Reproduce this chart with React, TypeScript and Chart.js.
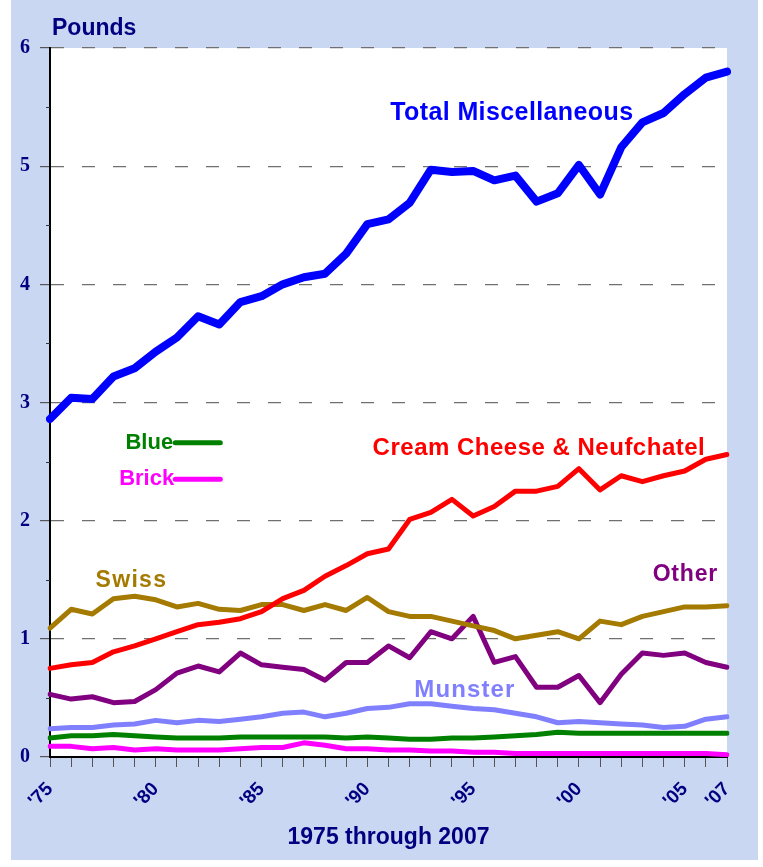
import React, { useEffect, useRef } from 'react';
import { Chart, registerables } from 'chart.js';

Chart.register(...registerables);

const years = ['1975','1976','1977','1978','1979','1980','1981','1982','1983','1984','1985','1986','1987','1988','1989','1990','1991','1992','1993','1994','1995','1996','1997','1998','1999','2000','2001','2002','2003','2004','2005','2006','2007'];
const shownYears = ['1975','1980','1985','1990','1995','2000','2005','2007'];
const xTickLabels = ["'75","'80","'85","'90","'95","'00","'05","'07"];
const yTickValues = [0, 1, 2, 3, 4, 5, 6];

const totalMisc = [2.86,3.04,3.03,3.22,3.29,3.43,3.55,3.73,3.66,3.85,3.90,4.00,4.06,4.09,4.26,4.51,4.55,4.69,4.97,4.95,4.96,4.88,4.92,4.70,4.77,5.01,4.76,5.16,5.37,5.45,5.61,5.75,5.80];
const creamCheese = [0.75,0.78,0.80,0.89,0.94,1.00,1.06,1.12,1.14,1.17,1.23,1.34,1.41,1.53,1.62,1.72,1.76,2.01,2.07,2.18,2.04,2.12,2.25,2.25,2.29,2.44,2.26,2.38,2.33,2.38,2.42,2.52,2.56];
const swiss = [1.09,1.25,1.21,1.34,1.36,1.33,1.27,1.30,1.25,1.24,1.29,1.29,1.24,1.29,1.24,1.35,1.23,1.19,1.19,1.15,1.11,1.07,1.00,1.03,1.06,1.00,1.15,1.12,1.19,1.23,1.27,1.27,1.28];
const other = [0.53,0.49,0.51,0.46,0.47,0.57,0.71,0.77,0.72,0.88,0.78,0.76,0.74,0.65,0.80,0.80,0.94,0.84,1.06,1.00,1.19,0.80,0.85,0.59,0.59,0.69,0.46,0.70,0.88,0.86,0.88,0.80,0.76];
const munster = [0.24,0.25,0.25,0.27,0.28,0.31,0.29,0.31,0.30,0.32,0.34,0.37,0.38,0.34,0.37,0.41,0.42,0.45,0.45,0.43,0.41,0.40,0.37,0.34,0.29,0.30,0.29,0.28,0.27,0.25,0.26,0.32,0.34];
const blue = [0.16,0.18,0.18,0.19,0.18,0.17,0.16,0.16,0.16,0.17,0.17,0.17,0.17,0.17,0.16,0.17,0.16,0.15,0.15,0.16,0.16,0.17,0.18,0.19,0.21,0.20,0.20,0.20,0.20,0.20,0.20,0.20,0.20];
const brick = [0.09,0.09,0.07,0.08,0.06,0.07,0.06,0.06,0.06,0.07,0.08,0.08,0.12,0.10,0.07,0.07,0.06,0.06,0.05,0.05,0.04,0.04,0.03,0.03,0.03,0.03,0.03,0.03,0.03,0.03,0.03,0.03,0.02];

const seriesNames = ['Total Miscellaneous', 'Cream Cheese & Neufchatel', 'Swiss', 'Other', 'Munster', 'Blue', 'Brick'];
const seriesColors = ['#0000FF', '#FF0000', '#A47A00', '#800080', '#8080FF', '#008000', '#FF00FF'];
const seriesWidths = [8, 5, 5, 5, 5, 5, 5];
const seriesData = [totalMisc, creamCheese, swiss, other, munster, blue, brick];

// label anchor positions in data units (x = category index, y = pounds)
const labelX = [21.83, 23.11, 3.85, 30.03, 19.61, 5.82, 5.87];
const labelY = [5.45, 2.61, 1.49, 1.54, 0.56, 2.66, 2.35];
const labelAlign: CanvasTextAlign[] = ['center', 'center', 'center', 'center', 'center', 'right', 'right'];
const labelSize = [25, 24, 23, 23, 24, 22, 22];
const labelSpacing = [0.4, 0.5, 1.3, 0.8, 1.1, 0, 0];
// short legend strokes for Blue and Brick (x from, x to in category index)
const legendStrokeFrom = [5.92, 5.92];
const legendStrokeTo = [8.05, 8.05];

const NAVY = '#000080';
const SANS = '"Liberation Sans", Arial, sans-serif';
const SERIF = '"Liberation Serif", "Times New Roman", serif';

const decorPlugin = {
  id: 'decor',
  beforeDraw(chart: any) {
    const { ctx, chartArea, width, height } = chart;
    ctx.save();
    ctx.fillStyle = '#FFFFFF';
    ctx.fillRect(0, 0, width, height);
    ctx.fillStyle = '#C9D7F3';
    ctx.fillRect(11, 0, width - 16, height - 7);
    ctx.fillStyle = '#FFFFFF';
    ctx.fillRect(chartArea.left, chartArea.top, chartArea.right - chartArea.left, chartArea.bottom - chartArea.top);
    ctx.restore();
  },
  afterDraw(chart: any) {
    const { ctx, chartArea, scales } = chart;
    const xs = scales.x;
    const ys = scales.y;
    ctx.save();
    // minor y ticks at half values
    ctx.strokeStyle = '#333';
    ctx.lineWidth = 1;
    for (let i = 0; i < yTickValues.length - 1; i++) {
      const py = Math.round(ys.getPixelForValue(yTickValues[i] + 0.5)) + 0.5;
      ctx.beginPath();
      ctx.moveTo(chartArea.left - 4, py);
      ctx.lineTo(chartArea.left, py);
      ctx.stroke();
    }
    // "Pounds"
    ctx.fillStyle = NAVY;
    ctx.font = `bold 23px ${SANS}`;
    ctx.textAlign = 'left';
    ctx.textBaseline = 'middle';
    ctx.fillText('Pounds', chartArea.left + 2, chartArea.top - 19);
    // series labels
    for (let i = 0; i < seriesNames.length; i++) {
      const px = xs.getPixelForValue(labelX[i]);
      const py = ys.getPixelForValue(labelY[i]);
      ctx.fillStyle = seriesColors[i];
      ctx.font = `bold ${labelSize[i]}px ${SANS}`;
      (ctx as any).letterSpacing = `${labelSpacing[i]}px`;
      ctx.textAlign = labelAlign[i];
      ctx.textBaseline = 'middle';
      ctx.fillText(seriesNames[i], px, py);
    }
    (ctx as any).letterSpacing = '0px';
    // legend strokes for Blue and Brick
    for (let k = 0; k < 2; k++) {
      const i = 5 + k;
      const py = ys.getPixelForValue(labelY[i]);
      ctx.strokeStyle = seriesColors[i];
      ctx.lineWidth = 5;
      ctx.lineCap = 'round';
      ctx.beginPath();
      ctx.moveTo(xs.getPixelForValue(legendStrokeFrom[k]), py);
      ctx.lineTo(xs.getPixelForValue(legendStrokeTo[k]), py);
      ctx.stroke();
    }
    ctx.restore();
  },
};

export default function App() {
  const canvasRef = useRef<HTMLCanvasElement | null>(null);

  useEffect(() => {
    const canvas = canvasRef.current;
    if (!canvas) return;
    const chart = new Chart(canvas, {
      type: 'line',
      data: {
        labels: years,
        datasets: seriesData.map((d, i) => ({
          label: seriesNames[i],
          data: d,
          borderColor: seriesColors[i],
          backgroundColor: seriesColors[i],
          borderWidth: seriesWidths[i],
          pointRadius: 0,
          pointHoverRadius: 0,
          tension: 0,
          fill: false,
          borderJoinStyle: 'round',
          borderCapStyle: 'round',
        })),
      },
      options: {
        responsive: false,
        animation: false,
        events: [],
        layout: { padding: { left: 0, top: 48, right: 36, bottom: 0 } },
        plugins: {
          legend: { display: false },
          tooltip: { enabled: false },
          title: { display: false },
        },
        scales: {
          x: {
            type: 'category',
            offset: false,
            afterFit: (scale: any) => { scale.height = 110; },
            grid: {
              display: true,
              drawOnChartArea: false,
              drawTicks: true,
              tickLength: 10,
              tickColor: '#555555',
              tickWidth: 1,
              color: '#555555',
            },
            border: { display: true, color: '#000000', width: 2 },
            ticks: {
              autoSkip: false,
              maxRotation: 45,
              minRotation: 45,
              padding: 11,
              color: NAVY,
              font: { family: SANS, size: 19, weight: 'bold' },
              callback: (_v: any, idx: number) => {
                const k = shownYears.indexOf(years[idx]);
                return k >= 0 ? xTickLabels[k] : '';
              },
            },
            title: {
              display: true,
              text: '1975 through 2007',
              color: NAVY,
              font: { family: SANS, size: 23, weight: 'bold' },
              padding: { top: 0, bottom: 16 },
            },
          },
          y: {
            min: 0,
            max: 6,
            afterFit: (scale: any) => { scale.width = 50; },
            afterBuildTicks: (scale: any) => {
              scale.ticks = yTickValues.map((v) => ({ value: v }));
            },
            grid: {
              display: true,
              drawOnChartArea: true,
              drawTicks: true,
              tickLength: 10,
              color: '#707070',
              lineWidth: 1.2,
              tickColor: '#555555',
              tickWidth: 1.2,
            },
            border: { display: true, color: '#000000', width: 2, dash: [13, 18] },
            ticks: {
              padding: 10,
              color: NAVY,
              font: { family: SERIF, size: 20, weight: 'bold' },
              callback: (v: any) => String(v),
            },
          },
        },
      },
      plugins: [decorPlugin],
    } as any);
    return () => chart.destroy();
  }, []);

  return (
    <div style={{ position: 'fixed', left: 0, top: 0, width: 763, height: 867 }}>
      <canvas ref={canvasRef} width={763} height={867} style={{ display: 'block', width: 763, height: 867 }} />
    </div>
  );
}
